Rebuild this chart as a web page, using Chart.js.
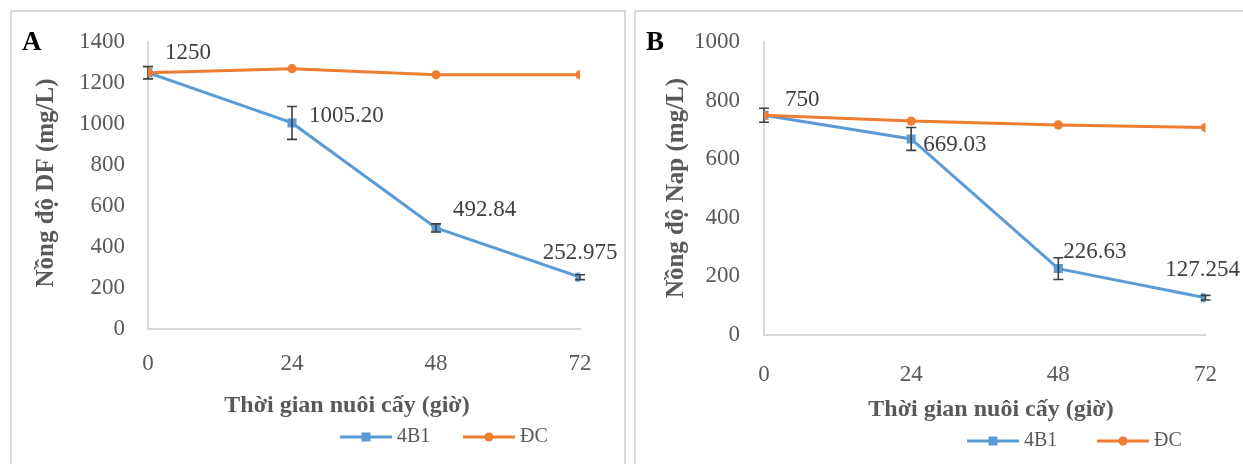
<!DOCTYPE html>
<html>
<head>
<meta charset="utf-8">
<script src="https://cdn.jsdelivr.net/npm/chart.js@4/dist/chart.umd.min.js"></script>
<style>
  html, body { margin: 0; padding: 0; background: #fff; width: 1243px; height: 464px; overflow: hidden; }
  .frame { position: absolute; border: 2px solid #d9d9d9; box-sizing: border-box; }
  #frameA { left: 10px; top: 10px; width: 616px; height: 480px; }
  #frameB { left: 634px; top: 10px; width: 640px; height: 480px; }
  canvas { position: absolute; top: 0; }
  #chartA { left: 0; }
  #chartB { left: 630px; }
</style>
</head>
<body>
<div class="frame" id="frameA"></div>
<div class="frame" id="frameB"></div>
<canvas id="chartA" width="630" height="464"></canvas>
<canvas id="chartB" width="613" height="464"></canvas>
<script>
// Culture time (hours)
const hours = [0, 24, 48, 72];
const xTicks = [0, 24, 48, 72];
const seriesNames = ['4B1', 'ĐC'];

// Panel A: DF concentration (mg/L)
const dfStrain = [1250, 1005.20, 492.84, 252.975];
const dfControl = [1250, 1270, 1240, 1240];
const dfStrainErr = [30, 80, 20, 12];
const dfDecimals = [0, 2, 2, 3];
const dfTicks = [0, 200, 400, 600, 800, 1000, 1200, 1400];

// Panel B: Nap concentration (mg/L)
const napStrain = [750, 669.03, 226.63, 127.254];
const napControl = [750, 730, 717, 708];
const napStrainErr = [24, 39, 37, 8];
const napDecimals = [0, 2, 2, 3];
const napTicks = [0, 200, 400, 600, 800, 1000];

const SERIF = '"Liberation Serif", "DejaVu Serif", serif';
const BLUE = '#5b9bd5';
const ORANGE = '#ed7d31';
const TEXT = '#595959';
const LABEL = '#404040';

function drawMarker(ctx, style, x, y, r, color) {
  ctx.fillStyle = color;
  ctx.beginPath();
  if (style === 'rect') {
    const s = r * Math.SQRT1_2;
    ctx.rect(x - s, y - s, 2 * s, 2 * s);
  } else {
    ctx.arc(x, y, r, 0, Math.PI * 2);
  }
  ctx.fill();
}

// Error bars, panel letter, data labels, axis titles and legend
const panelDecor = {
  id: 'panelDecor',
  afterDatasetDraw(chart, args, opts) {
    if (args.index !== 0) return;
    const ctx = chart.ctx;
    const ys = chart.scales.y;
    const ds = chart.data.datasets[0];
    ctx.save();
    ctx.strokeStyle = '#404040';
    ctx.lineWidth = 1.6;
    args.meta.data.forEach((pt, i) => {
      const v = ds.data[i].y;
      const e = opts.errors[i];
      const top = ys.getPixelForValue(v + e);
      const bot = ys.getPixelForValue(v - e);
      ctx.beginPath();
      ctx.moveTo(pt.x, top); ctx.lineTo(pt.x, bot);
      ctx.moveTo(pt.x - 5, top); ctx.lineTo(pt.x + 5, top);
      ctx.moveTo(pt.x - 5, bot); ctx.lineTo(pt.x + 5, bot);
      ctx.stroke();
    });
    ctx.restore();
  },
  afterDraw(chart, args, opts) {
    const ctx = chart.ctx;
    ctx.save();
    // panel letter
    ctx.fillStyle = '#000';
    ctx.font = 'bold 27px ' + SERIF;
    ctx.textAlign = 'left';
    ctx.textBaseline = 'middle';
    ctx.fillText(opts.letter, opts.letterPos[0], opts.letterPos[1]);

    // data labels on the strain series
    const meta = chart.getDatasetMeta(0);
    const ds = chart.data.datasets[0];
    ctx.fillStyle = LABEL;
    ctx.font = '23px ' + SERIF;
    meta.data.forEach((pt, i) => {
      const off = opts.labelOffsets[i];
      ctx.textAlign = off[2];
      ctx.fillText(ds.data[i].y.toFixed(opts.decimals[i]), pt.x + off[0], pt.y + off[1]);
    });

    // axis titles
    ctx.fillStyle = TEXT;
    ctx.font = 'bold 24px ' + SERIF;
    ctx.textAlign = 'center';
    ctx.fillText(opts.xTitle, opts.xTitlePos[0], opts.xTitlePos[1]);
    ctx.save();
    ctx.translate(opts.yTitlePos[0], opts.yTitlePos[1]);
    ctx.rotate(-Math.PI / 2);
    ctx.font = 'bold 25px ' + SERIF;
    ctx.fillText(opts.yTitle, 0, 0);
    ctx.restore();

    // legend
    ctx.font = '20px ' + SERIF;
    ctx.textAlign = 'left';
    chart.data.datasets.slice().sort((a, b) => a.legendIndex - b.legendIndex).forEach((d, i) => {
      const x0 = opts.legendX[i];
      const y = opts.legendY;
      ctx.strokeStyle = d.borderColor;
      ctx.lineWidth = 3;
      ctx.beginPath();
      ctx.moveTo(x0, y); ctx.lineTo(x0 + 52, y);
      ctx.stroke();
      drawMarker(ctx, d.pointStyle, x0 + 26, y, d.pointRadius, d.borderColor);
      ctx.fillStyle = TEXT;
      ctx.fillText(d.label, x0 + 57, y);
    });
    ctx.restore();
  }
};

function makeChart(id, cfg) {
  const toPts = vals => hours.map((h, i) => ({ x: h, y: vals[i] }));
  return new Chart(document.getElementById(id), {
    type: 'line',
    data: {
      datasets: [
        {
          label: seriesNames[0], legendIndex: 0, order: 1,
          data: toPts(cfg.strain),
          borderColor: BLUE, backgroundColor: BLUE, borderWidth: 3,
          pointStyle: 'rect', pointRadius: 6.4, pointBorderWidth: 0,
          pointBackgroundColor: BLUE, tension: 0
        },
        {
          label: seriesNames[1], legendIndex: 1, order: 0,
          data: toPts(cfg.control),
          borderColor: ORANGE, backgroundColor: ORANGE, borderWidth: 3,
          pointStyle: 'circle', pointRadius: 4.6, pointBorderWidth: 0,
          pointBackgroundColor: ORANGE, tension: 0
        }
      ]
    },
    options: {
      responsive: false,
      animation: false,
      layout: { padding: { top: 42, right: cfg.padRight, bottom: 0, left: 0 } },
      plugins: {
        legend: { display: false },
        tooltip: { enabled: false },
        panelDecor: cfg.decor
      },
      scales: {
        x: {
          type: 'linear', min: 0, max: 72,
          afterBuildTicks: s => { s.ticks = xTicks.map(v => ({ value: v })); },
          afterFit: s => { s.height = cfg.xHeight; },
          grid: { display: false, drawTicks: false },
          border: { display: true, color: '#d9d9d9', width: 2 },
          ticks: { padding: cfg.xTickPad, color: TEXT, font: { family: SERIF, size: 23 }, maxRotation: 0,
                   callback: v => String(v) }
        },
        y: {
          type: 'linear', min: 0, max: cfg.yMax,
          afterBuildTicks: s => { s.ticks = cfg.yTicks.map(v => ({ value: v })); },
          afterFit: s => { s.width = cfg.yWidth; },
          grid: { display: false, drawTicks: false },
          border: { display: true, color: '#d9d9d9', width: 2 },
          ticks: { padding: cfg.yTickPad, color: TEXT, font: { family: SERIF, size: 23 },
                   callback: v => String(v) }
        }
      }
    },
    plugins: [panelDecor]
  });
}

makeChart('chartA', {
  strain: dfStrain, control: dfControl, yTicks: dfTicks, yMax: 1400,
  padRight: 50, xHeight: 135, yWidth: 148, xTickPad: 21, yTickPad: 23,
  decor: {
    letter: 'A', letterPos: [22, 43],
    errors: dfStrainErr, decimals: dfDecimals,
    labelOffsets: [[17, -20, 'left'], [17, -7, 'left'], [17, -18, 'left'], [0, -24, 'center']],
    xTitle: 'Thời gian nuôi cấy (giờ)', xTitlePos: [347, 406],
    yTitle: 'Nồng độ DF (mg/L)', yTitlePos: [47, 183],
    legendX: [340, 463], legendY: 437
  }
});

makeChart('chartB', {
  strain: napStrain, control: napControl, yTicks: napTicks, yMax: 1000,
  padRight: 35, xHeight: 129, yWidth: 134, xTickPad: 26, yTickPad: 24,
  decor: {
    letter: 'B', letterPos: [16, 43],
    errors: napStrainErr, decimals: napDecimals,
    labelOffsets: [[21, -15, 'left'], [12, 6, 'left'], [5, -17, 'left'], [-3, -28, 'center']],
    xTitle: 'Thời gian nuôi cấy (giờ)', xTitlePos: [361, 410],
    yTitle: 'Nồng độ Nap (mg/L)', yTitlePos: [47, 188],
    legendX: [337, 467], legendY: 441
  }
});
</script>
</body>
</html>
